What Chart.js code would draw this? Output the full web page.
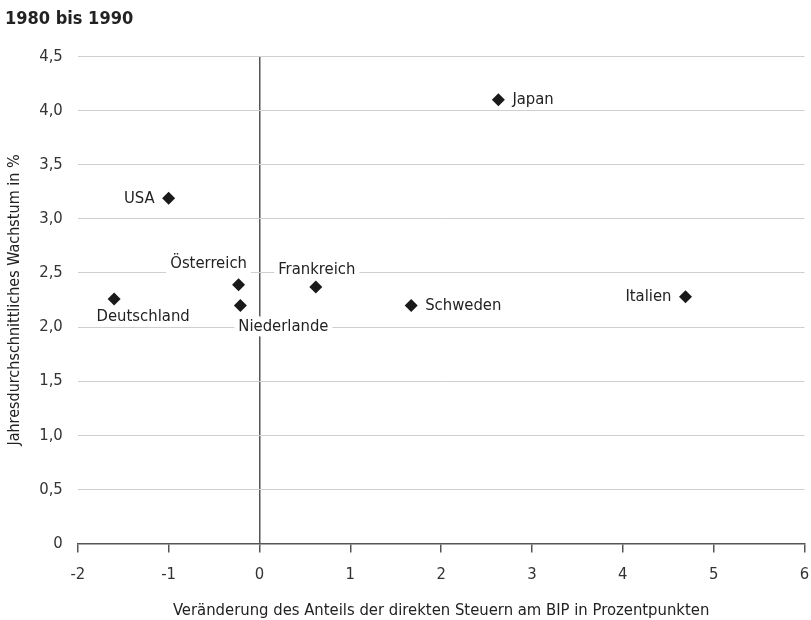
<!DOCTYPE html>
<html>
<head>
<meta charset="utf-8">
<script src="https://cdn.jsdelivr.net/npm/chart.js@4.4.0/dist/chart.umd.min.js"></script>
<style>
  html, body { margin: 0; padding: 0; background: #fff; }
  #wrap { width: 811px; height: 620px; }
</style>
</head>
<body>
<div id="wrap"><canvas id="scatterChart"></canvas></div>
<script>
  'use strict';

  // Data
  var countries = ["Japan", "USA", "Österreich", "Niederlande", "Deutschland", "Frankreich", "Schweden", "Italien"];
  var taxChange = [2.63, -1.0, -0.23, -0.21, -1.60, 0.62, 1.67, 4.69];
  var growth    = [4.10, 3.19, 2.39, 2.20, 2.26, 2.37, 2.20, 2.28];
  var xTicks = [-2, -1, 0, 1, 2, 3, 4, 5, 6];
  var yTicks = [0, 0.5, 1, 1.5, 2, 2.5, 3, 3.5, 4, 4.5];

  // where each label sits relative to its point: [dx, dy, align]
  var labelPlace = {
    "Japan":       [14, 0, 'left'],
    "USA":         [-14, 0, 'right'],
    "Österreich":  [-30, -21, 'center'],
    "Niederlande": [43, 21, 'center'],
    "Deutschland": [29, 18, 'center'],
    "Frankreich":  [1, -17, 'center'],
    "Schweden":    [14, 0, 'left'],
    "Italien":     [-14, 0, 'right']
  };

  var FONT = "'Liberation Sans Narrow', 'DejaVu Sans Condensed', 'Noto Sans', sans-serif";

  var points = [];
  for (let i = 0; i < countries.length; i++) {
    points.push({ x: taxChange[i], y: growth[i], name: countries[i] });
  }

  var pointLabels = {
    id: 'pointLabels',
    afterDatasetsDraw: function(chart) {
      var ctx = chart.ctx;
      var meta = chart.getDatasetMeta(0);
      ctx.save();
      ctx.font = '16.5px ' + FONT;
      ctx.textBaseline = 'middle';
      meta.data.forEach(function(el, i) {
        var name = countries[i];
        var p = labelPlace[name];
        var tx = el.x + p[0], ty = el.y + p[1];
        var w = ctx.measureText(name).width;
        var left = p[2] === 'left' ? tx : (p[2] === 'right' ? tx - w : tx - w / 2);
        ctx.fillStyle = '#fff';
        ctx.fillRect(left - 4, ty - 10, w + 8, 20);
        ctx.fillStyle = '#222';
        ctx.textAlign = p[2];
        ctx.fillText(name, tx, ty);
      });
      ctx.restore();
    }
  };

  var ctx = document.getElementById('scatterChart').getContext('2d');
  var chart = new Chart(ctx, {
    type: 'scatter',
    data: {
      datasets: [{
        data: points,
        pointStyle: 'rectRot',
        pointRadius: 6.5,
        pointHoverRadius: 6.5,
        backgroundColor: '#1a1a1a',
        borderColor: '#1a1a1a',
        borderWidth: 0
      }]
    },
    options: {
      responsive: true,
      maintainAspectRatio: false,
      animation: false,
      layout: { padding: { left: 5, right: 6, top: 6, bottom: -1 } },
      plugins: {
        legend: { display: false },
        tooltip: { enabled: false },
        title: {
          display: true,
          text: '1980 bis 1990',
          align: 'start',
          color: '#222',
          font: { family: FONT, size: 18, weight: 'bold' },
          padding: { top: 3, bottom: 26 }
        }
      },
      scales: {
        x: {
          type: 'linear',
          min: -2,
          max: 6,
          afterBuildTicks: function(axis) {
            axis.ticks = xTicks.map(function(v) { return { value: v }; });
          },
          afterFit: function(axis) {
            axis.paddingRight = 0;
          },
          border: { display: true, color: '#555', width: 1.5 },
          grid: {
            drawOnChartArea: true,
            color: function(c) { return c.tick && c.tick.value === 0 ? '#555' : 'rgba(0,0,0,0)'; },
            lineWidth: 1.5,
            tickColor: '#555',
            tickLength: 9
          },
          ticks: {
            color: '#333',
            font: { family: FONT, size: 16.5 },
            padding: 12
          },
          title: {
            display: true,
            text: 'Veränderung des Anteils der direkten Steuern am BIP in Prozentpunkten',
            color: '#222',
            font: { family: FONT, size: 16.5 },
            padding: { top: 5, bottom: 0 }
          }
        },
        y: {
          type: 'linear',
          min: 0,
          max: 4.5,
          afterBuildTicks: function(axis) {
            axis.ticks = yTicks.map(function(v) { return { value: v }; });
          },
          border: { display: false },
          grid: {
            color: '#cfcfcf',
            lineWidth: 1,
            drawTicks: false
          },
          ticks: {
            color: '#333',
            font: { family: FONT, size: 16.5 },
            padding: 15,
            callback: function(v) { return v === 0 ? '0' : v.toFixed(1).replace('.', ','); }
          },
          title: {
            display: true,
            text: 'Jahresdurchschnittliches Wachstum in %',
            color: '#222',
            font: { family: FONT, size: 16 },
            padding: { top: 0, bottom: 0 }
          }
        }
      }
    },
    plugins: [pointLabels]
  });
</script>
</body>
</html>
